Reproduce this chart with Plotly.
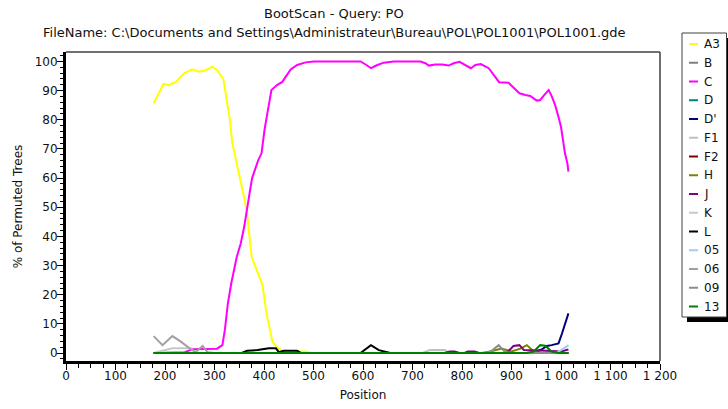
import plotly.graph_objects as go

# ---------------- data ----------------
series_names = ["A3", "B", "C", "D", "D'", "F1", "F2", "H", "J", "K", "L", "05", "06", "09", "13"]
series_colors = ["#FFFF00", "#808080", "#FF00FF", "#008080", "#000080", "#C0C0C0", "#800000",
                 "#808000", "#800080", "#C8C8C8", "#000000", "#A6CAF0", "#A0A0A0", "#8C8C8C", "#008000"]

a3_x = [177, 187, 197, 208, 222, 239, 255, 269, 282, 296, 306, 318, 325, 331, 336, 345, 352, 358, 365,
        370, 375, 385, 397, 405, 417, 427, 437, 450, 484, 495, 1015]
a3_y = [85.7, 89, 92.3, 91.9, 93, 96, 97.3, 96.5, 97, 98.2, 96.9, 93.9, 85.7, 80, 72, 65, 60.5, 54.8, 49,
        41, 33, 28.5, 23.3, 13.6, 3.9, 1.9, 0.8, 0.5, 0.5, 0, 0]

c_x = [177, 240, 255, 290, 305, 316, 321, 327, 334, 345, 353, 360, 366, 372, 376, 381, 388, 395, 401, 408,
       415, 427, 437, 444, 454, 467, 484, 501, 595, 607, 616, 629, 642, 662, 716, 726, 733, 746, 760, 773,
       783, 795, 807, 818, 827, 838, 854, 864, 875, 894, 904, 916, 928, 938, 951, 958, 966, 975, 981, 988,
       994, 1000, 1004, 1008, 1013, 1015]
c_y = [0, 0.3, 1.3, 1.3, 1.5, 2.7, 8, 17, 24, 33, 37.6, 43.3, 49, 56, 60, 62.8, 66, 68.5, 76.5, 83.4,
       90.2, 92, 93, 94.8, 97.3, 98.8, 99.7, 100, 100, 98.8, 97.7, 98.8, 99.6, 100, 100, 99.4, 98.6, 99, 99, 98.6,
       99.4, 99.9, 98.8, 97.7, 98.8, 99.1, 97.7, 95.4, 92.9, 92.7, 91.1, 89.1, 88.5, 88.2, 86.6, 86.8, 88.5, 90.2, 88.2, 85.1,
       81.6, 77.6, 73, 68.5, 65, 62.2]

b_x = [177, 1015]
b_y = [0, 0]
d_x = [177, 1015]
d_y = [0, 0]
dp_x = [177, 940, 961, 971, 981, 995, 1002, 1008, 1015]
dp_y = [0, 0, 1.2, 2.4, 2.7, 3.3, 6.7, 10.2, 13.6]
f1_x = [177, 720, 735, 745, 765, 775, 1015]
f1_y = [0, 0, 1.0, 1.0, 1.0, 0, 0]
f2_x = [177, 1015]
f2_y = [0, 0]
h_x = [177, 840, 857, 880, 900, 918, 931, 945, 960, 1015]
h_y = [0, 0, 0.5, 1.5, 0.5, 1.5, 2.7, 0.5, 0, 0]
j_x = [177, 765, 775, 785, 795, 805, 812, 825, 835, 890, 904, 916, 925, 945, 970, 1000, 1015]
j_y = [0, 0, 0.5, 0.5, 0, 0, 0.5, 0.5, 0, 0, 2.4, 2.7, 1.0, 1.0, 0.8, 0.5, 1.2]
k_x = [177, 200, 215, 252, 262, 1015]
k_y = [0, 1.0, 1.6, 1.6, 0, 0]
l_x = [177, 355, 366, 387, 410, 424, 430, 440, 467, 475, 595, 602, 616, 632, 645, 655, 1015]
l_y = [0, 0, 0.8, 1.0, 1.6, 1.6, 0.3, 0.8, 0.8, 0, 0, 0.8, 2.7, 1.0, 0.5, 0, 0]
s05_x = [177, 990, 1005, 1015]
s05_y = [0, 0, 1.5, 2.7]
s06_x = [177, 195, 215, 232, 252, 262, 276, 286, 300, 1015]
s06_y = [5.8, 2.7, 5.8, 3.9, 1.3, 0.3, 2.4, 0.3, 0, 0]
s09_x = [177, 850, 862, 874, 886, 900, 1015]
s09_y = [0, 0, 1.0, 2.7, 0.5, 0, 0]
s13_x = [177, 930, 945, 958, 968, 981, 995, 1015]
s13_y = [0, 0, 0.5, 2.7, 2.5, 0.5, 0, 0]

series_x = [a3_x, b_x, c_x, d_x, dp_x, f1_x, f2_x, h_x, j_x, k_x, l_x, s05_x, s06_x, s09_x, s13_x]
series_y = [a3_y, b_y, c_y, d_y, dp_y, f1_y, f2_y, h_y, j_y, k_y, l_y, s05_y, s06_y, s09_y, s13_y]

x_tickvals = [0, 100, 200, 300, 400, 500, 600, 700, 800, 900, 1000, 1100, 1200]
x_ticktext = ["0", "100", "200", "300", "400", "500", "600", "700", "800", "900", "1 000", "1 100", "1 200"]
y_tickvals = [0, 10, 20, 30, 40, 50, 60, 70, 80, 90, 100]

title_line1 = "BootScan - Query: PO"
title_line2 = "FileName: C:\\Documents and Settings\\Administrateur\\Bureau\\POL\\POL1001\\POL1001.gde"

# ---------------- layout constants ----------------
W, H = 728, 409
PL, PR, PT, PB = 66, 660, 52, 361   # plot area in pixels
FONT = "DejaVu Sans, Verdana, sans-serif"
TXT = "#111111"


def px_to_paper_x(px):
    return (px - PL) / (PR - PL)


def px_to_paper_y(py):
    return (PB - py) / (PB - PT)


fig = go.Figure()
for name, color, xs, ys in zip(series_names, series_colors, series_x, series_y):
    fig.add_trace(go.Scatter(x=xs, y=ys, mode="lines", name=name,
                             line=dict(color=color, width=2), showlegend=False))

shapes = []
annotations = []

# top/right frame (thin)
shapes.append(dict(type="line", xref="paper", yref="paper", x0=0, x1=1, y0=1, y1=1,
                   line=dict(color="#404040", width=1.5)))
shapes.append(dict(type="line", xref="paper", yref="paper", x0=1, x1=1, y0=0, y1=1,
                   line=dict(color="#404040", width=1.5)))

# custom legend
LB_L, LB_R, LB_T, LB_B = 682, 726.5, 33, 317
shapes.append(dict(type="rect", xref="paper", yref="paper",
                   x0=px_to_paper_x(LB_L + 5), x1=px_to_paper_x(LB_R + 5),
                   y0=px_to_paper_y(LB_B + 5), y1=px_to_paper_y(LB_T + 5),
                   fillcolor="#000000", line=dict(width=0)))
shapes.append(dict(type="rect", xref="paper", yref="paper",
                   x0=px_to_paper_x(LB_L), x1=px_to_paper_x(LB_R),
                   y0=px_to_paper_y(LB_B), y1=px_to_paper_y(LB_T),
                   fillcolor="#FFFFFF", line=dict(color="#404040", width=1)))
for i, (name, color) in enumerate(zip(series_names, series_colors)):
    yy = 44 + 18.75 * i
    shapes.append(dict(type="line", xref="paper", yref="paper",
                       x0=px_to_paper_x(689), x1=px_to_paper_x(698),
                       y0=px_to_paper_y(yy), y1=px_to_paper_y(yy),
                       line=dict(color=color, width=2)))
    annotations.append(dict(text=name, xref="paper", yref="paper",
                            x=px_to_paper_x(702), y=px_to_paper_y(yy),
                            xanchor="left", yanchor="middle", showarrow=False,
                            font=dict(family=FONT, size=12, color=TXT)))

# titles
annotations.append(dict(text=title_line1, xref="paper", yref="paper",
                        x=px_to_paper_x(334), y=px_to_paper_y(13),
                        xanchor="center", yanchor="middle", showarrow=False,
                        font=dict(family=FONT, size=13, color=TXT)))
annotations.append(dict(text=title_line2, xref="paper", yref="paper",
                        x=px_to_paper_x(334), y=px_to_paper_y(33),
                        xanchor="center", yanchor="middle", showarrow=False,
                        font=dict(family=FONT, size=13, color=TXT)))

fig.update_layout(
    width=W, height=H,
    margin=dict(l=PL, r=W - PR, t=PT, b=H - PB, pad=0, autoexpand=False),
    paper_bgcolor="#FFFFFF", plot_bgcolor="#FFFFFF",
    font=dict(family=FONT, size=12, color=TXT),
    shapes=shapes, annotations=annotations,
    showlegend=False,
)
fig.update_xaxes(
    range=[0, 1200], tickmode="array", tickvals=x_tickvals, ticktext=x_ticktext,
    automargin=False, ticklabelstandoff=-4,
    showgrid=False, zeroline=False, showline=True, linecolor="#000000", linewidth=3,
    ticks="outside", ticklen=6, tickwidth=1, tickcolor="#000000",
    tickfont=dict(family=FONT, size=12, color=TXT),
    minor=dict(tickmode="linear", tick0=0, dtick=25, ticks="outside", ticklen=4,
               tickwidth=1, tickcolor="#000000", showgrid=False),
    title=dict(text="Position", font=dict(family=FONT, size=12, color=TXT), standoff=9),
)
fig.update_yaxes(
    range=[-2.74, 103.26], tickmode="array", tickvals=y_tickvals,
    automargin=False, ticklabelstandoff=-3,
    showgrid=False, zeroline=False, showline=True, linecolor="#000000", linewidth=3,
    ticks="outside", ticklen=6, tickwidth=1, tickcolor="#000000",
    tickfont=dict(family=FONT, size=12, color=TXT),
    minor=dict(tickmode="linear", tick0=0, dtick=2, ticks="outside", ticklen=3,
               tickwidth=1, tickcolor="#000000", showgrid=False),
    title=dict(text="% of Permuted Trees", font=dict(family=FONT, size=12, color=TXT), standoff=10),
)

fig.write_html("out.html")
